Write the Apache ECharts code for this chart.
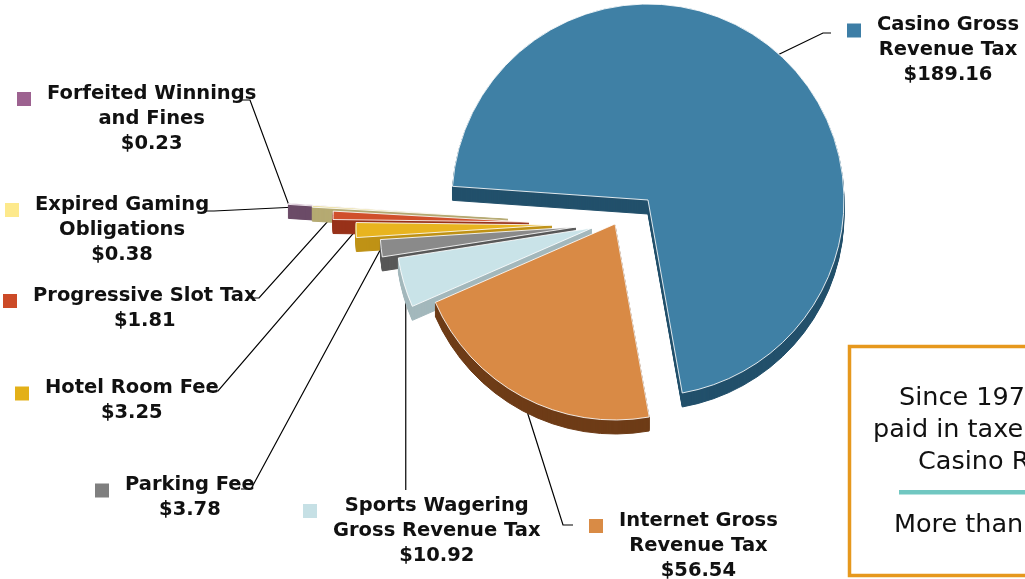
<!DOCTYPE html>
<html>
<head>
<meta charset="utf-8">
<script src="https://cdn.jsdelivr.net/npm/echarts@6/dist/echarts.min.js"></script>
<style>
  html, body { margin: 0; padding: 0; background: #ffffff; }
  #chart { width: 1025px; height: 579px; }
</style>
</head>
<body>
<div id="chart"></div>
<script>
// Revenue sources (millions of dollars)
const categories = [
  'Casino Gross Revenue Tax',
  'Internet Gross Revenue Tax',
  'Sports Wagering Gross Revenue Tax',
  'Parking Fee',
  'Hotel Room Fee',
  'Progressive Slot Tax',
  'Expired Gaming Obligations',
  'Forfeited Winnings and Fines'
];
const labelText = [
  ['Casino Gross', 'Revenue Tax'],
  ['Internet Gross', 'Revenue Tax'],
  ['Sports Wagering', 'Gross Revenue Tax'],
  ['Parking Fee'],
  ['Hotel Room Fee'],
  ['Progressive Slot Tax'],
  ['Expired Gaming', 'Obligations'],
  ['Forfeited Winnings', 'and Fines']
];
const values = [189.16, 56.54, 10.92, 3.78, 3.25, 1.81, 0.38, 0.23];
const valueLabels = values.map(v => '$' + v.toFixed(2));

// Palette: top face, extruded side, key square
const topColors  = ['#3f80a5', '#d98a45', '#c9e3e8', '#8a8a8a', '#e8b41f', '#d0502b', '#e6d78c', '#8e5a84'];
const sideColors = ['#22506b', '#6e3c17', '#a3b8bc', '#585858', '#bf9216', '#98321a', '#b5aa72', '#6b4b67'];
const keyColors  = ['#3d7ea6', '#d98b45', '#c6e0e5', '#7f7f7f', '#e3b018', '#cc4a27', '#fde98c', '#9d6290'];

// Layout
const RADIUS = 196;
const DEPTH = 14;
const START_ANGLE = 176;
const FONT = 'DejaVu Sans';
const centers = [[648, 200], [615, 224], [592, 228], [576, 227], [552, 225], [529, 222], [508, 218], [484, 217]];
const labelAnchors = [[847, 12.5], [589, 508], [303, 493], [95, 472.5], [15, 375.5], [3, 283], [5, 192], [17, 81]];
const leaderTails = [
  [[823, 33], [831, 33]],
  [[563, 525], [573, 525]],
  null,
  [[251, 489], [241, 489]],
  [[218, 391], [207, 391]],
  [[259, 298], [250, 298]],
  [[214, 211], [206, 211]],
  [[250, 100], [241, 100]]
];

function labelFormatter(idx) {
  const lines = labelText[idx].concat([valueLabels[idx]]);
  return lines.map((t, j) => (j === 0 ? '{sq|}{gap|}' : '{pad|}') + '{t|' + t + '}').join('\n');
}

function sliceSeries(idx, dy, isTop) {
  const data = values.map((v, i) => {
    const item = { name: categories[i], value: v };
    if (i !== idx) {
      item.itemStyle = { color: 'rgba(0,0,0,0)', borderWidth: 0 };
      return item;
    }
    item.itemStyle = isTop
      ? { color: topColors[idx], borderColor: 'rgba(255,255,255,0.85)', borderWidth: 1 }
      : { color: sideColors[idx], borderColor: sideColors[idx], borderWidth: 1 };
    if (isTop) {
      item.label = {
        show: true,
        position: 'outside',
        formatter: () => labelFormatter(idx),
        color: '#111111',
        fontFamily: FONT,
        rich: {
          sq: { width: 14, height: 14, backgroundColor: keyColors[idx], verticalAlign: 'bottom', lineHeight: 25 },
          gap: { width: 16, height: 14, lineHeight: 25 },
          pad: { width: 30, lineHeight: 25 },
          t: { fontFamily: FONT, fontSize: 19.5, fontWeight: 'bold', color: '#111111', lineHeight: 25, align: 'center' }
        }
      };
      item.labelLine = { show: true, lineStyle: { color: '#000000', width: 1.2 } };
    }
    return item;
  });
  const s = {
    type: 'pie',
    silent: true,
    animation: false,
    radius: RADIUS,
    center: [centers[idx][0], centers[idx][1] + dy],
    startAngle: START_ANGLE,
    clockwise: true,
    minAngle: 0,
    avoidLabelOverlap: false,
    emphasis: { disabled: true },
    label: { show: false },
    labelLine: { show: false },
    data: data
  };
  if (isTop) {
    s.labelLayout = (p) => {
      if (p.dataIndex !== idx) return {};
      const a = labelAnchors[idx];
      const out = { x: a[0], y: a[1], align: 'left', verticalAlign: 'top' };
      const pts = p.labelLinePoints;
      if (pts && pts.length) {
        const st = pts[0];
        const tail = leaderTails[idx];
        out.labelLinePoints = tail
          ? [st, tail[0], tail[1]]
          : [[st[0] + 2, st[1] + 14], [st[0] + 2, 300], [st[0] + 2, 490]];
      }
      return out;
    };
  }
  return s;
}

// Back slices first so the front ones overlap them; each slice is a stack of
// side layers under its top face to give the extruded look.
const drawOrder = [7, 6, 5, 4, 3, 2, 1, 0];
const series = [];
drawOrder.forEach(idx => {
  for (let k = DEPTH; k >= 1; k--) series.push(sliceSeries(idx, k, false));
  series.push(sliceSeries(idx, 0, true));
});

const boxFont = '25.5px "DejaVu Sans"';
const chart = echarts.init(document.getElementById('chart'));
chart.setOption({
  backgroundColor: '#ffffff',
  animation: false,
  series: series,
  graphic: [
    { type: 'rect', shape: { x: 849.5, y: 346.5, width: 400, height: 229 },
      style: { fill: '#ffffff', stroke: '#e6981d', lineWidth: 3.5 } },
    { type: 'text', style: { x: 899, y: 398, text: 'Since 197', font: boxFont, fill: '#111111', align: 'left', verticalAlign: 'middle' } },
    { type: 'text', style: { x: 873, y: 430, text: 'paid in taxe', font: boxFont, fill: '#111111', align: 'left', verticalAlign: 'middle' } },
    { type: 'text', style: { x: 918, y: 462, text: 'Casino R', font: boxFont, fill: '#111111', align: 'left', verticalAlign: 'middle' } },
    { type: 'rect', shape: { x: 899, y: 490, width: 300, height: 4.5 }, style: { fill: '#71c7c1' } },
    { type: 'text', style: { x: 894, y: 525, text: 'More than', font: boxFont, fill: '#111111', align: 'left', verticalAlign: 'middle' } }
  ]
});
</script>
</body>
</html>
